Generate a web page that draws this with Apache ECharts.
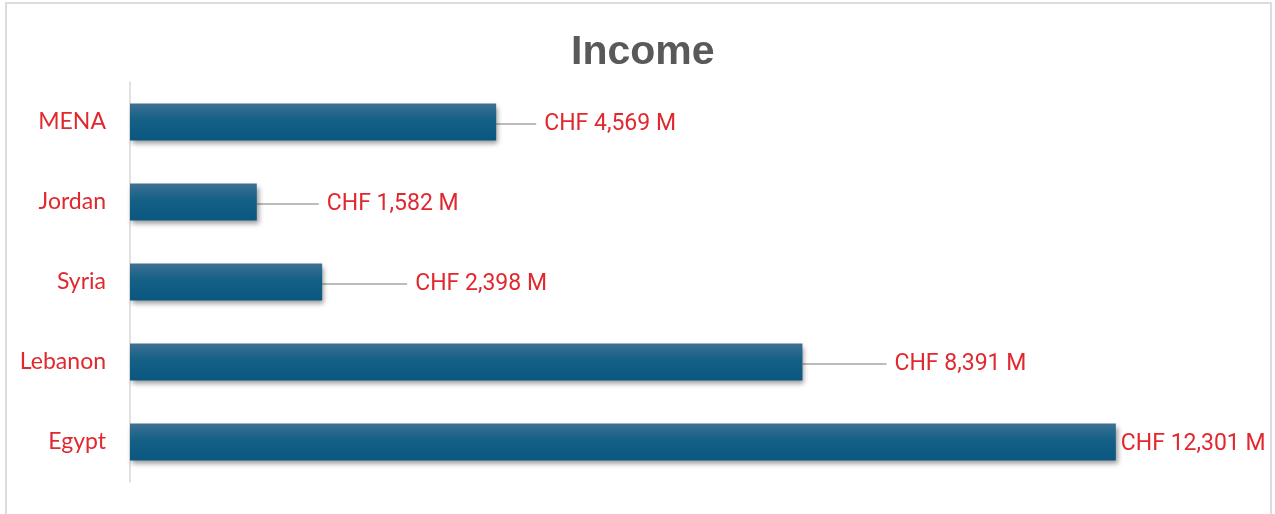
<!DOCTYPE html>
<html>
<head>
<meta charset="utf-8">
<script src="https://cdn.jsdelivr.net/npm/echarts@6/dist/echarts.min.js"></script>
<style>
  html, body { margin: 0; padding: 0; background: #fff; }
  #chart { width: 1275px; height: 514px; }
</style>
</head>
<body>
<div id="chart"></div>
<script>
// 数据
var regions = ['MENA', 'Jordan', 'Syria', 'Lebanon', 'Egypt'];
var income = [4569, 1582, 2398, 8391, 12301];

// 标签偏移(引导线长度)
var labelShift = [35, 57, 80, 79, -8];

var chart = echarts.init(document.getElementById('chart'));

var option = {
    backgroundColor: '#fff',
    title: {
        text: 'Income',
        left: 566,
        top: 27,
        textStyle: {
            fontFamily: 'Liberation Sans',
            fontSize: 41,
            fontWeight: 'bold',
            color: '#595959'
        }
    },
    graphic: [{
        type: 'rect',
        shape: {x: 6, y: 3, width: 1265, height: 530},
        style: {fill: 'none', stroke: '#dcdcdc', lineWidth: 2},
        silent: true
    }],
    grid: {left: 130, right: 23, top: 82, bottom: 32, containLabel: false, outerBoundsMode: 'none'},
    xAxis: {
        type: 'value',
        min: 0,
        max: 14000,
        show: false
    },
    yAxis: {
        type: 'category',
        inverse: true,
        data: regions,
        axisLine: {lineStyle: {color: '#d9d9d9', width: 1.5}},
        axisTick: {show: false},
        axisLabel: {
            margin: 24,
            padding: [5, 0, 0, 0],
            color: '#e0282e',
            fontFamily: 'Lato',
            fontSize: 23
        }
    },
    series: [{
        type: 'bar',
        barWidth: 37,
        data: income.map(function (v, i) {
            return {value: v, labelLine: {show: labelShift[i] > 0}};
        }),
        itemStyle: {
            color: new echarts.graphic.LinearGradient(0, 0, 0, 1, [
                {offset: 0, color: '#3d7194'},
                {offset: 0.45, color: '#145f86'},
                {offset: 1, color: '#0b5780'}
            ]),
            shadowColor: 'rgba(0,0,0,0.4)',
            shadowBlur: 5,
            shadowOffsetX: 2,
            shadowOffsetY: 3
        },
        label: {
            show: true,
            position: 'right',
            distance: 5,
            color: '#e0282e',
            fontFamily: 'Roboto',
            fontSize: 23,
            formatter: function (p) {
                return '{gap|}CHF ' + p.value.toLocaleString('en-US') + ' M';
            },
            rich: {
                gap: {width: 8}
            }
        },
        labelLine: {
            show: true,
            lineStyle: {color: '#a6a6a6', width: 1.5}
        },
        labelLayout: function (params) {
            return {dx: labelShift[params.dataIndex], dy: 2};
        }
    }]
};

chart.setOption(option);

window.onresize = function () {
    chart.resize();
};
</script>
</body>
</html>
